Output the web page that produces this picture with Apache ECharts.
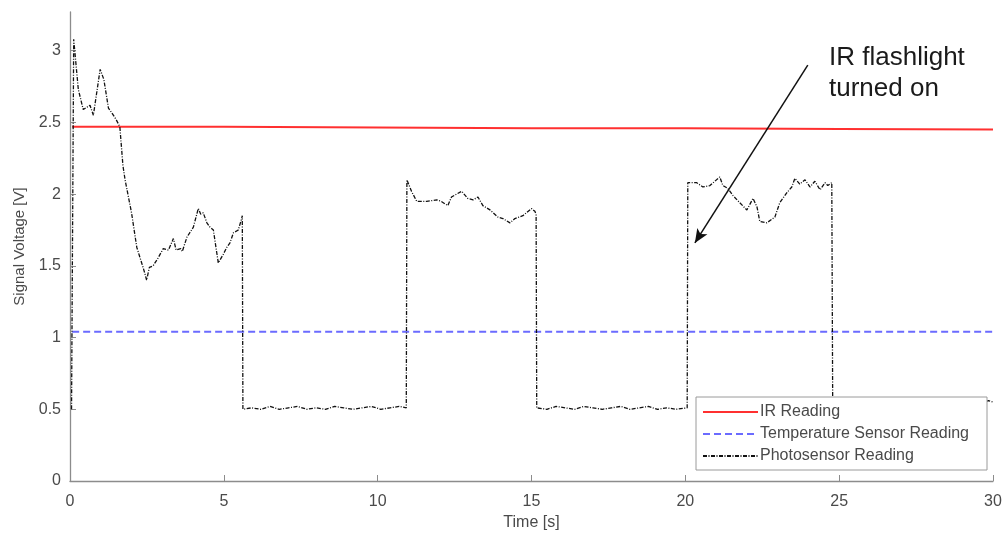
<!DOCTYPE html>
<html>
<head>
<meta charset="utf-8">
<script src="https://cdn.jsdelivr.net/npm/echarts@6/dist/echarts.min.js"></script>
<style>
  html, body { margin: 0; padding: 0; background: #fff; }
  #chart { width: 1008px; height: 539px; }
</style>
</head>
<body>
<div id="chart"></div>
<script>
// 坐标轴刻度
const xTicks = [0, 5, 10, 15, 20, 25, 30]
const yTicks = [0, 0.5, 1, 1.5, 2, 2.5, 3]

// IR Reading
const irTime = [0.07, 5, 10, 15, 20, 25, 30]
const irVolt = [2.47, 2.47, 2.465, 2.46, 2.46, 2.455, 2.45]

// Temperature Sensor Reading
const tempTime = [0.07, 30]
const tempVolt = [1.04, 1.04]

// Photosensor Reading
const photoTime = [
  0.05, 0.12, 0.16, 0.27, 0.43, 0.65, 0.76, 0.98, 1.1, 1.25, 1.35, 1.5, 1.62, 1.72, 1.79, 2.0,
  2.17, 2.33, 2.43, 2.49, 2.58, 2.7, 2.85, 3.03, 3.2, 3.36, 3.45, 3.6, 3.65, 3.8, 4.01, 4.17,
  4.25, 4.33, 4.45, 4.55, 4.66, 4.82, 4.98, 5.1, 5.2, 5.31, 5.47, 5.58, 5.6,
  5.62, 5.9, 6.2, 6.5, 6.8, 7.1, 7.4, 7.7, 8.0, 8.3, 8.6, 8.9, 9.2, 9.5, 9.8, 10.1, 10.4, 10.7, 10.93,
  10.95, 11.1, 11.27, 11.59, 11.92, 12.06, 12.28, 12.4, 12.73, 12.93, 13.1, 13.26, 13.42, 13.65,
  13.91, 14.07, 14.3, 14.46, 14.72, 15.0, 15.11, 15.15,
  15.17, 15.5, 15.8, 16.1, 16.4, 16.7, 17.0, 17.3, 17.6, 17.9, 18.2, 18.5, 18.8, 19.1, 19.4, 19.7, 20.06,
  20.08, 20.37, 20.57, 20.8, 20.96, 21.12, 21.22, 21.38, 21.55, 21.77, 22.0, 22.2, 22.33, 22.42,
  22.65, 22.91, 23.07, 23.3, 23.46, 23.56, 23.72, 23.89, 24.05, 24.21, 24.38, 24.54, 24.63, 24.76,
  24.79, 25.1, 25.4, 25.7, 26.0, 26.3, 26.6, 26.9, 27.2, 27.5, 27.8, 28.1, 28.4, 28.7, 29.0, 29.3, 29.6,
  29.7, 29.85, 30
]
const photoVolt = [
  0.50, 3.08, 3.07, 2.73, 2.59, 2.62, 2.55, 2.87, 2.80, 2.60, 2.57, 2.52, 2.47, 2.20, 2.10, 1.87,
  1.63, 1.52, 1.45, 1.40, 1.49, 1.50, 1.55, 1.62, 1.61, 1.69, 1.61, 1.62, 1.60, 1.70, 1.77, 1.90,
  1.86, 1.87, 1.80, 1.77, 1.75, 1.52, 1.58, 1.63, 1.66, 1.73, 1.75, 1.83, 1.85,
  0.50, 0.51, 0.50, 0.52, 0.50, 0.51, 0.52, 0.50, 0.51, 0.50, 0.52, 0.51, 0.50, 0.51, 0.52, 0.50, 0.51, 0.52, 0.51,
  2.10, 2.02, 1.95, 1.95, 1.96, 1.95, 1.92, 1.98, 2.02, 1.97, 1.96, 1.98, 1.92, 1.89,
  1.84, 1.83, 1.80, 1.83, 1.85, 1.90, 1.88, 1.86,
  0.51, 0.50, 0.52, 0.51, 0.50, 0.52, 0.51, 0.50, 0.51, 0.52, 0.50, 0.51, 0.52, 0.50, 0.51, 0.50, 0.51,
  2.08, 2.08, 2.05, 2.06, 2.09, 2.12, 2.06, 2.04, 1.99, 1.94, 1.89, 1.97, 1.91, 1.81,
  1.80, 1.84, 1.94, 2.01, 2.05, 2.11, 2.07, 2.10, 2.05, 2.09, 2.03, 2.08, 2.06, 2.08,
  0.51, 0.50, 0.52, 0.51, 0.50, 0.51, 0.52, 0.50, 0.51, 0.50, 0.52, 0.51, 0.50, 0.51, 0.52, 0.50, 0.51,
  0.55, 0.56, 0.55
]

// 注释箭头（数据坐标）
const arrowFrom = [23.98, 2.90]
const arrowTo = [20.31, 1.66]
const noteLines = ['IR flashlight', 'turned on']

const pair = (t, v) => t.map((x, i) => [x, v[i]])

const axisGray = '#8c8c8c'
const labelGray = '#4a4a4a'
const font = 'Liberation Sans, Arial, sans-serif'

const chart = echarts.init(document.getElementById('chart'))

chart.setOption({
  animation: false,
  backgroundColor: '#fff',
  grid: { left: 70, right: 15, top: 12, bottom: 58 },
  xAxis: {
    type: 'value',
    min: 0,
    max: 30,
    interval: 5,
    name: 'Time [s]',
    nameLocation: 'middle',
    nameGap: 33,
    nameTextStyle: { fontFamily: font, fontSize: 16, color: labelGray },
    axisLine: { lineStyle: { color: axisGray, width: 1.3 } },
    axisTick: { inside: true, length: 6, lineStyle: { color: axisGray } },
    axisLabel: { fontFamily: font, fontSize: 16, color: labelGray, margin: 13 },
    splitLine: { show: false }
  },
  yAxis: {
    type: 'value',
    min: 0,
    max: 3.27,
    name: 'Signal Voltage [V]',
    nameLocation: 'middle',
    nameGap: 42,
    nameTextStyle: { fontFamily: font, fontSize: 15, color: labelGray },
    axisLine: { show: true, lineStyle: { color: axisGray, width: 1.3 } },
    axisTick: { show: true, inside: true, length: 6, customValues: yTicks, lineStyle: { color: axisGray } },
    axisLabel: { fontFamily: font, fontSize: 16, color: labelGray, margin: 9, customValues: yTicks },
    splitLine: { show: false }
  },
  legend: {
    orient: 'vertical',
    left: 696,
    top: 397,
    width: 286,
    padding: [7, 18, 6, 6],
    itemWidth: 55,
    itemHeight: 14,
    itemGap: 6,
    backgroundColor: '#fff',
    borderColor: '#9a9a9a',
    borderWidth: 1,
    itemStyle: { opacity: 0 },
    textStyle: { fontFamily: font, fontSize: 16, color: labelGray, padding: [0, 0, 0, -3] },
    data: ['IR Reading', 'Temperature Sensor Reading', 'Photosensor Reading']
  },
  graphic: [{
    type: 'text',
    left: 829,
    top: 42,
    style: {
      text: noteLines.join('\n'),
      font: '26px ' + font,
      lineHeight: 31,
      fill: '#1a1a1a'
    }
  }],
  series: [
    {
      name: 'IR Reading',
      type: 'line',
      data: pair(irTime, irVolt),
      symbol: 'none',
      lineStyle: { color: '#ff3030', width: 2 },
      itemStyle: { color: '#ff3030' },
      z: 2
    },
    {
      name: 'Temperature Sensor Reading',
      type: 'line',
      data: pair(tempTime, tempVolt),
      symbol: 'none',
      lineStyle: { color: '#6b6bff', width: 2, type: [7, 4] },
      itemStyle: { color: '#6b6bff' },
      z: 2
    },
    {
      name: 'Photosensor Reading',
      type: 'line',
      data: pair(photoTime, photoVolt),
      symbol: 'none',
      lineStyle: { color: '#111', width: 1.3, type: [4, 1.5, 1, 1.5] },
      itemStyle: { color: '#111' },
      z: 3,
      markLine: {
        silent: true,
        symbol: ['none', 'arrow'],
        symbolSize: [9, 14],
        label: { show: false },
        lineStyle: { color: '#111', width: 1.5, type: 'solid' },
        data: [[{ coord: arrowFrom }, { coord: arrowTo }]]
      }
    }
  ]
})
</script>
</body>
</html>
